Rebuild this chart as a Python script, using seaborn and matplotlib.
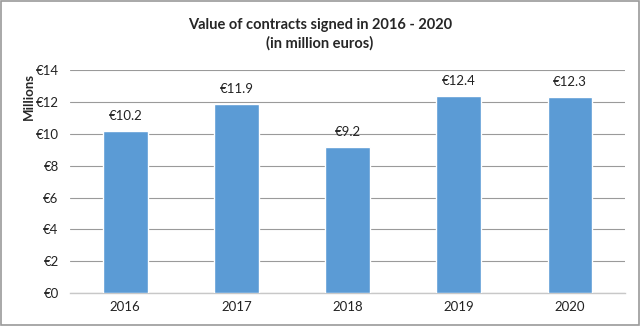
import matplotlib
matplotlib.use("Agg")
import matplotlib.pyplot as plt
import seaborn as sns
import pandas as pd
from matplotlib.patches import Rectangle

years = ["2016", "2017", "2018", "2019", "2020"]
values = [10.2, 11.9, 9.2, 12.4, 12.3]
yticks = [0, 2, 4, 6, 8, 10, 12, 14]

sns.set_style("white")
plt.rcParams['font.family'] = ['Lato', 'DejaVu Sans']

df = pd.DataFrame({"year": years, "value": values})

fig = plt.figure(figsize=(6.4, 3.26), dpi=100)
ax = fig.add_axes([0.109, 0.101, 0.868, 0.684])
sns.barplot(data=df, x="year", y="value", color="#5B9BD5", width=0.4,
            saturation=1, ax=ax, zorder=3)

ax.set_ylim(0, 14)
ax.set_yticks(yticks)
ax.set_yticklabels([f"€{t}" for t in yticks], fontsize=9.5, color="#222222")
ax.tick_params(axis="x", labelsize=9.5, colors="#222222", length=0, pad=6)
ax.tick_params(axis="y", length=0, pad=8)
ax.grid(axis="y", color="#9a9a9a", linewidth=0.8, zorder=0)
for s in ["top", "right", "left"]:
    ax.spines[s].set_visible(False)
ax.spines["bottom"].set_color("#c8c8c8")
ax.spines["bottom"].set_linewidth(1.0)
ax.set_xlabel("")
ax.set_ylabel("Millions", fontsize=9.5, fontweight="bold")
ax.yaxis.set_label_coords(-0.063, 0.88)

for i, v in enumerate(values):
    ax.text(i, v + 0.55, f"€{v}", ha="center", va="bottom", fontsize=9.5,
            color="#222222")

fig.text(0.5, 0.945, "Value of contracts signed in 2016 - 2020\n(in million euros)",
         ha="center", va="top", fontsize=10.5, fontweight="bold", linespacing=1.35)

fig.patches.append(Rectangle((0.0015, 0.003), 0.997, 0.994, transform=fig.transFigure,
                             fill=False, edgecolor="#9a9a9a", linewidth=1.2))

fig.savefig("out.png", dpi=100)
